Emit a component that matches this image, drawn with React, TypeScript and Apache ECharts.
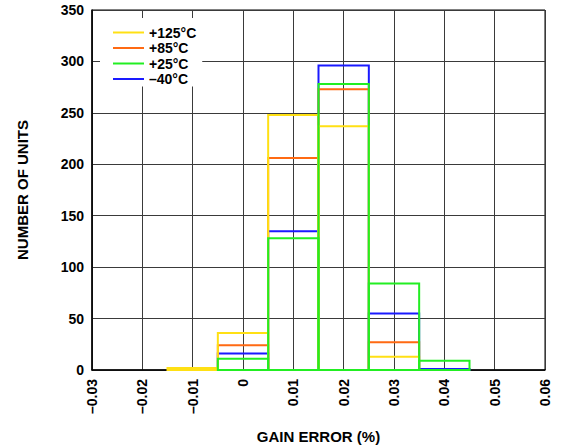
import React, { useEffect, useRef } from "react";
import * as echarts from "echarts";

const binCenters = [-0.01, 0, 0.01, 0.02, 0.03, 0.04];
const binWidth = 0.01;
const seriesNames = ["+125°C", "+85°C", "+25°C", "–40°C"];
const seriesColors = ["#ffe014", "#ff6a13", "#22ee22", "#1a1aff"];
const countsP125 = [2, 36, 248, 237, 13, 0];
const countsP85 = [0, 24, 206, 273, 27, 0];
const countsP25 = [0, 11, 128, 278, 84, 9];
const countsM40 = [0, 16, 135, 296, 55, 1];
const allCounts = [countsP125, countsP85, countsP25, countsM40];
const drawOrder = [3, 1, 0, 2];

const FONT = 'Arial, "Liberation Sans", sans-serif';

function fmtX(v: number): string {
  const r = Math.round(v * 100) / 100;
  if (r === 0) return "0";
  const s = Math.abs(r).toFixed(2);
  return r < 0 ? "–" + s : s;
}

export default function App() {
  const ref = useRef<HTMLDivElement>(null);
  useEffect(() => {
    if (!ref.current) return;
    const chart = echarts.init(ref.current, null, { renderer: "svg" });
    const series = drawOrder.map((i) => ({
      name: seriesNames[i],
      type: "custom",
      itemStyle: { color: seriesColors[i] },
      data: binCenters.map((c, k) => [c, allCounts[i][k]]),
      renderItem: (params: any, api: any) => {
        const x = api.value(0);
        const y = api.value(1);
        if (!y) return null;
        const p1 = api.coord([x - binWidth / 2, y]);
        const p2 = api.coord([x + binWidth / 2, 0]);
        return {
          type: "rect",
          shape: { x: p1[0], y: p1[1], width: p2[0] - p1[0], height: p2[1] - p1[1] },
          style: { fill: "none", stroke: seriesColors[i], lineWidth: 2 },
        };
      },
      z: 3,
    }));
    chart.setOption({
      animation: false,
      backgroundColor: "#fff",
      grid: {
        left: 92,
        right: 18,
        top: 10,
        bottom: 78,
        containLabel: false,
        outerBoundsMode: "none",
        show: true,
        borderColor: "#000",
        borderWidth: 1,
      },
      legend: {
        left: 100,
        top: 18,
        orient: "vertical",
        data: seriesNames.map((n, i) => ({ name: n, itemStyle: { color: seriesColors[i] } })),
        icon: "rect",
        itemWidth: 31,
        itemHeight: 2,
        itemGap: 0.5,
        padding: [7, 6, 0, 13],
        backgroundColor: "#fff",
        textStyle: { fontFamily: FONT, fontWeight: "bold", fontSize: 14, color: "#000", lineHeight: 15 },
        z: 10,
      },
      xAxis: {
        type: "value",
        min: -0.03,
        max: 0.06,
        interval: 0.01,
        name: "GAIN ERROR (%)",
        nameLocation: "middle",
        nameGap: 59,
        nameMoveOverlap: false,
        nameTextStyle: { fontFamily: FONT, fontWeight: "bold", fontSize: 15, color: "#000" },
        axisLine: { show: true, onZero: false, lineStyle: { color: "#000", width: 1.5 } },
        axisTick: { show: false },
        axisLabel: {
          rotate: 90,
          margin: 9,
          formatter: fmtX,
          fontFamily: FONT,
          fontWeight: "bold",
          fontSize: 14,
          color: "#000",
        },
        splitLine: { show: true, lineStyle: { color: "#3a3a3a", width: 1 } },
      },
      yAxis: {
        type: "value",
        min: 0,
        max: 350,
        interval: 50,
        name: "NUMBER OF UNITS",
        nameLocation: "middle",
        nameGap: 62,
        nameMoveOverlap: false,
        nameTextStyle: { fontFamily: FONT, fontWeight: "bold", fontSize: 15, color: "#000" },
        axisLine: { show: true, onZero: false, lineStyle: { color: "#000", width: 1.5 } },
        axisTick: { show: false },
        axisLabel: { margin: 8, fontFamily: FONT, fontWeight: "bold", fontSize: 14, color: "#000" },
        splitLine: { show: true, lineStyle: { color: "#3a3a3a", width: 1 } },
      },
      series,
    });
    return () => chart.dispose();
  }, []);
  return (
    <div
      ref={ref}
      style={{ position: "fixed", left: 0, top: 0, width: 563, height: 448 }}
    />
  );
}
